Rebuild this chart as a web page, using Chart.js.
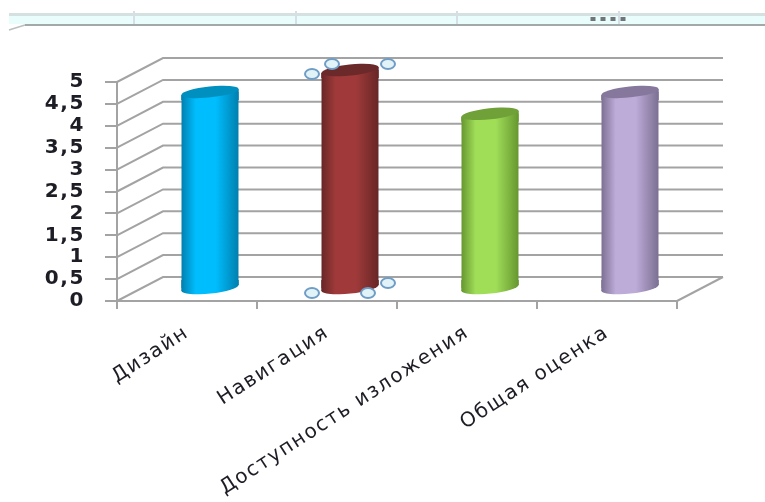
<!DOCTYPE html>
<html lang="ru">
<head>
<meta charset="utf-8">
<title>Оценка</title>
<script src="https://cdn.jsdelivr.net/npm/chart.js@4"></script>
<style>
  html, body { margin: 0; padding: 0; background: #fff; }
  canvas { display: block; }
</style>
</head>
<body>
<canvas id="chart" width="765" height="502"></canvas>
<script>
const categories = ['Дизайн', 'Навигация', 'Доступность изложения', 'Общая оценка'];
const scores = [4.5, 5, 4, 4.5];
const edgeColors = ['#007fae', '#672626', '#66962f', '#7b6f92'];
const midColors = ['#00bdfd', '#a03a3a', '#a0de58', '#bdabd8'];
const capColors = ['#0090bf', '#6b2929', '#70a038', '#85789c'];

const WALL_COLOR = '#a3a3a3';
const TEXT_COLOR = '#1d1d26';
const BAR_SHARE = 0.41;

// depth of the 3D box, columns stand halfway in
const DEPTH_X = 46;
const DEPTH_Y = -24;
const MID_X = 23;
const MID_Y = -12;

const CAP_TILT = -6 * Math.PI / 180;
const CAP_RY = 5.5;

// handles around the selected column, relative to its centre line
const SELECTED = 1;
const topHandles = [[-38, 4], [-18, -6], [38, -6]];
const baseHandles = [[-38, 5], [18, 5], [38, -5]];

function barGradient(context) {
  const chart = context.chart;
  if (!chart.chartArea || context.dataIndex === undefined) return midColors[0];
  const i = context.dataIndex;
  const xScale = chart.scales.x;
  const half = xScale.width / categories.length * BAR_SHARE / 2;
  const cx = xScale.getPixelForValue(i);
  const g = chart.ctx.createLinearGradient(cx - half, 0, cx + half, 0);
  g.addColorStop(0, edgeColors[i]);
  g.addColorStop(0.25, midColors[i]);
  g.addColorStop(0.6, midColors[i]);
  g.addColorStop(1, edgeColors[i]);
  return g;
}

// ribbon strip above the chart
const ribbonStrip = {
  id: 'ribbonStrip',
  beforeDraw(chart) {
    const ctx = chart.ctx;
    ctx.save();
    ctx.fillStyle = '#eafdfd';
    ctx.fillRect(9, 16, 756, 8);
    ctx.fillStyle = '#d5e0e0';
    ctx.fillRect(9, 13, 756, 3);
    ctx.fillStyle = '#a3a8a8';
    ctx.fillRect(25, 24, 740, 2);
    ctx.fillStyle = '#d6dfe6';
    [134, 296, 457, 619].forEach((x) => ctx.fillRect(x - 1, 11, 2, 13));
    ctx.fillStyle = '#70757a';
    [593, 603, 613, 623].forEach((x) => ctx.fillRect(x - 2.5, 17, 5, 4));
    ctx.strokeStyle = '#b9bfbf';
    ctx.lineWidth = 1.5;
    ctx.beginPath();
    ctx.moveTo(9, 30);
    ctx.lineTo(25, 25);
    ctx.stroke();
    ctx.restore();
    ctx.letterSpacing = '1.6px';
  }
};

// back wall and floor of the box, then columns pushed into the depth
const box3d = {
  id: 'box3d',
  beforeDatasetsDraw(chart) {
    const ctx = chart.ctx;
    const { left, right, bottom } = chart.chartArea;
    const y = chart.scales.y;
    ctx.save();
    ctx.strokeStyle = WALL_COLOR;
    ctx.lineWidth = 2;
    y.ticks.forEach((tick) => {
      const py = y.getPixelForValue(tick.value);
      ctx.beginPath();
      ctx.moveTo(left, py);
      ctx.lineTo(left + DEPTH_X, py + DEPTH_Y);
      ctx.lineTo(right + DEPTH_X, py + DEPTH_Y);
      ctx.stroke();
    });
    ctx.beginPath();
    ctx.moveTo(right, bottom);
    ctx.lineTo(right + DEPTH_X, bottom + DEPTH_Y);
    ctx.stroke();
    ctx.restore();

    ctx.save();
    ctx.translate(MID_X, MID_Y);

    // trim the square bar corners so the ends follow the tilted caps
    ctx.save();
    ctx.beginPath();
    chart.getDatasetMeta(0).data.forEach((bar) => {
      const rx = bar.width / 2;
      const t = rx * Math.tan(-CAP_TILT);
      ctx.moveTo(bar.x - rx, bar.y + t);
      ctx.lineTo(bar.x + rx, bar.y - t);
      ctx.lineTo(bar.x + rx, bar.base - t);
      ctx.lineTo(bar.x - rx, bar.base + t);
      ctx.closePath();
    });
    ctx.clip();
  },
  afterDatasetsDraw(chart) {
    const ctx = chart.ctx;
    ctx.restore();

    const bars = chart.getDatasetMeta(0).data;
    bars.forEach((bar, i) => {
      const rx = bar.width / 2;
      const t = rx * Math.tan(-CAP_TILT);
      ctx.fillStyle = bar.options.backgroundColor;

      // slabs closing the gap between the flat bar ends and the caps
      ctx.beginPath();
      ctx.moveTo(bar.x - rx, bar.base - 8);
      ctx.lineTo(bar.x + rx, bar.base - 8);
      ctx.lineTo(bar.x + rx, bar.base - t);
      ctx.lineTo(bar.x - rx, bar.base + t);
      ctx.closePath();
      ctx.moveTo(bar.x - rx, bar.y + t);
      ctx.lineTo(bar.x + rx, bar.y - t);
      ctx.lineTo(bar.x + rx, bar.y + 8);
      ctx.lineTo(bar.x - rx, bar.y + 8);
      ctx.closePath();
      ctx.fill();

      ctx.beginPath();
      ctx.ellipse(bar.x, bar.base, rx, CAP_RY, CAP_TILT, 0, Math.PI * 2);
      ctx.fill();
      ctx.fillStyle = capColors[i];
      ctx.beginPath();
      ctx.ellipse(bar.x, bar.y, rx, CAP_RY, CAP_TILT, 0, Math.PI * 2);
      ctx.fill();
    });

    const picked = bars[SELECTED];
    ctx.fillStyle = '#e2f3f8';
    ctx.strokeStyle = '#6f9dc6';
    ctx.lineWidth = 2;
    const handle = (x, y) => {
      ctx.beginPath();
      ctx.ellipse(x, y, 7, 5, 0, 0, Math.PI * 2);
      ctx.fill();
      ctx.stroke();
    };
    topHandles.forEach(([dx, dy]) => handle(picked.x + dx, picked.y + dy));
    baseHandles.forEach(([dx, dy]) => handle(picked.x + dx, picked.base + dy));
    ctx.restore();
  }
};

new Chart(document.getElementById('chart'), {
  type: 'bar',
  data: {
    labels: categories,
    datasets: [{
      data: scores,
      backgroundColor: barGradient,
      borderWidth: 0,
      categoryPercentage: BAR_SHARE,
      barPercentage: 1,
      clip: false
    }]
  },
  plugins: [ribbonStrip, box3d],
  options: {
    responsive: false,
    animation: false,
    layout: { padding: { top: 82, right: 88, left: 0, bottom: 0 } },
    plugins: {
      legend: { display: false },
      tooltip: { enabled: false }
    },
    scales: {
      x: {
        afterFit: (scale) => { scale.height = 201; },
        grid: { drawOnChartArea: false, color: WALL_COLOR, tickLength: 8, lineWidth: 2 },
        border: { color: WALL_COLOR, width: 2 },
        ticks: {
          color: TEXT_COLOR,
          font: { family: 'DejaVu Sans', size: 20 },
          minRotation: 33,
          maxRotation: 33,
          autoSkip: false,
          padding: 12
        }
      },
      y: {
        min: 0,
        max: 5,
        afterFit: (scale) => { scale.width = 117; },
        grid: { drawOnChartArea: false, color: WALL_COLOR, tickLength: 12, lineWidth: 2 },
        border: { color: WALL_COLOR, width: 2 },
        ticks: {
          stepSize: 0.5,
          autoSkip: false,
          color: TEXT_COLOR,
          padding: 20,
          font: { family: 'DejaVu Sans', size: 20, weight: 'bold' },
          callback: (value) => String(value).replace('.', ',')
        }
      }
    }
  }
});
</script>
</body>
</html>
